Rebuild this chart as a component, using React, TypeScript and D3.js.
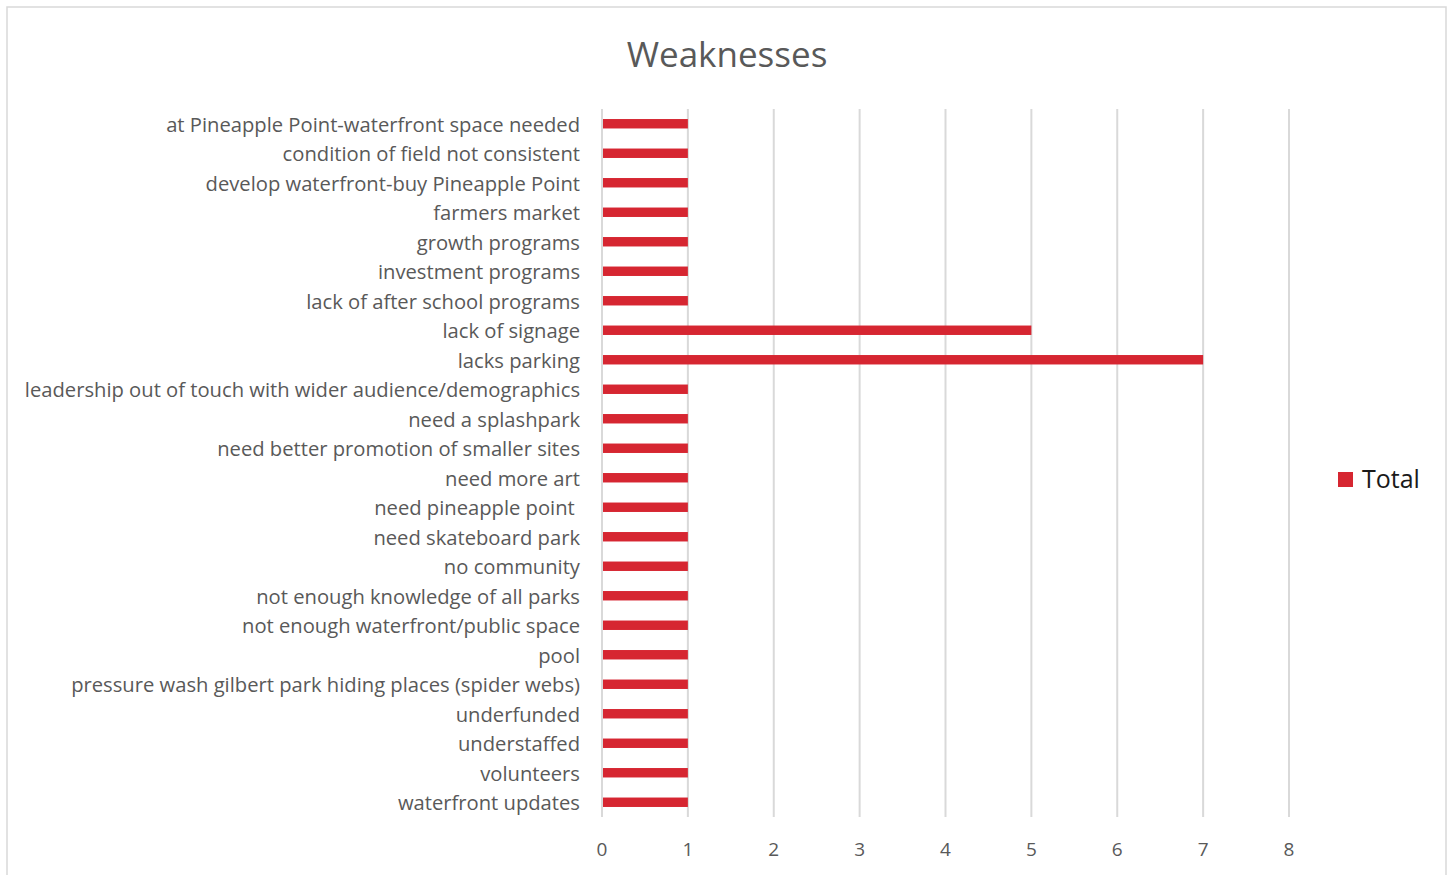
import React from "react";
import * as d3 from "d3";

const categories = [
  "at Pineapple Point-waterfront space needed",
  "condition of field not consistent",
  "develop waterfront-buy Pineapple Point",
  "farmers market",
  "growth programs",
  "investment programs",
  "lack of after school programs",
  "lack of signage",
  "lacks parking",
  "leadership out of touch with wider audience/demographics",
  "need a splashpark",
  "need better promotion of smaller sites",
  "need more art",
  "need pineapple point ",
  "need skateboard park",
  "no community",
  "not enough knowledge of all parks",
  "not enough waterfront/public space",
  "pool",
  "pressure wash gilbert park hiding places (spider webs)",
  "underfunded",
  "understaffed",
  "volunteers",
  "waterfront updates",
];
const totals = [1, 1, 1, 1, 1, 1, 1, 5, 7, 1, 1, 1, 1, 1, 1, 1, 1, 1, 1, 1, 1, 1, 1, 1];
const xTicks = [0, 1, 2, 3, 4, 5, 6, 7, 8];
const title = "Weaknesses";
const seriesName = "Total";

export default function App() {
  const W = 1453, H = 875;
  const x = d3.scaleLinear().domain([0, 8]).range([602, 1289]);
  const y = d3.scaleBand<string>().domain(categories).range([109, 817]).paddingInner(0.68).paddingOuter(0.34);
  const font = "'Segoe UI', 'Open Sans', 'Noto Sans', sans-serif";
  return (
    <svg width={W} height={H} style={{ position: "absolute", left: 0, top: 0 }} fontFamily={font}>
      <rect x={7} y={7} width={1439} height={880} fill="#fff" stroke="#d9d9d9" strokeWidth={1.5} />
      <text x={727} y={67} textAnchor="middle" fontSize={35} fill="#595959">{title}</text>
      {xTicks.map((t) => (
        <g key={t}>
          <line x1={x(t)} x2={x(t)} y1={109} y2={817} stroke="#d9d9d9" strokeWidth={2} />
          <text x={x(t)} y={856} textAnchor="middle" fontSize={19} fill="#595959">{t}</text>
        </g>
      ))}
      {categories.map((c, i) => (
        <g key={c}>
          <rect x={x(0) + 1} y={y(c)!} width={x(totals[i]) - x(0) - 1} height={y.bandwidth()} fill="#d62631" />
          <text x={580} y={y(c)! + y.bandwidth() / 2 + 1} dy="0.35em" textAnchor="end" fontSize={20.2} fill="#595959" style={{ whiteSpace: "pre" }}>{c}</text>
        </g>
      ))}
      <rect x={1338} y={472} width={15} height={15} fill="#d62631" />
      <text x={1362} y={479} dy="0.35em" fontSize={25} fill="#1a1a1a">{seriesName}</text>
    </svg>
  );
}
